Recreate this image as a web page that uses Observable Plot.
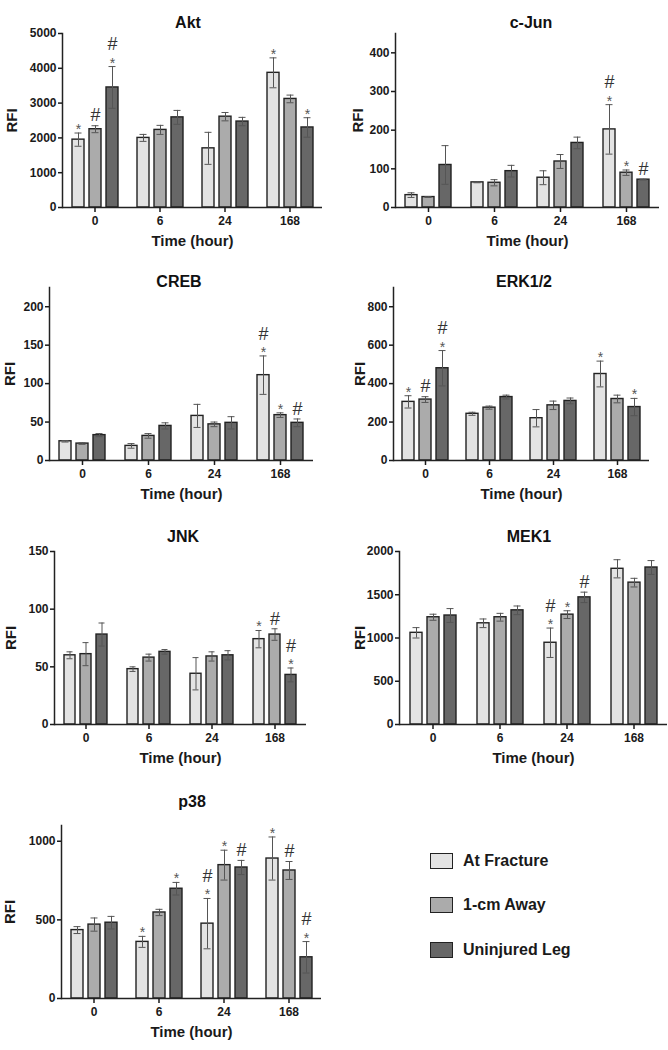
<!DOCTYPE html>
<html><head><meta charset="utf-8">
<script src="https://cdn.jsdelivr.net/npm/d3@7"></script>
<script src="https://cdn.jsdelivr.net/npm/@observablehq/plot@0.6"></script>
<style>
html,body{margin:0;padding:0;background:#fff;}
#page{position:relative;width:668px;height:1050px;overflow:hidden;font-family:"Liberation Sans",Arial,sans-serif;color:#1a1a1a;background:#fff;}
.panel{position:absolute;}
.panel svg{position:absolute;left:0;top:0;}
.ptitle{position:absolute;width:200px;text-align:center;font-weight:bold;font-size:16px;line-height:20px;color:#111;}
g[aria-label="y-axis label"], g[aria-label="fx-axis label"]{font-size:15px;font-weight:bold;}
g[aria-label="y-axis tick label"], g[aria-label="fx-axis tick label"]{font-size:12px;font-weight:bold;}
.lg{position:absolute;display:flex;align-items:center;font-weight:bold;font-size:16px;color:#1a1a1a;}
.sw{width:21px;height:14px;border:1.5px solid #222;margin-right:10px;}
</style>
</head><body><div id="page"></div>
<script>
// ---------- data ----------
const times = ["0", "6", "24", "168"];
const series = ["At Fracture", "1-cm Away", "Uninjured Leg"];

// values per time point: [At Fracture, 1-cm Away, Uninjured Leg]
const aktMean = [[1950, 2250, 3450], [2000, 2230, 2590], [1700, 2610, 2470], [3870, 3120, 2300]];
const aktErr  = [[190, 100, 600], [100, 130, 200], [460, 120, 120], [430, 110, 280]];
const aktSig  = [["*", "#", "*#"], ["", "", ""], ["", "", ""], ["*", "", "*"]];
const aktTicks = [0, 1000, 2000, 3000, 4000, 5000];

const cjunMean = [[32, 27, 110], [65, 64, 94], [77, 119, 167], [202, 90, 72]];
const cjunErr  = [[6, 1, 50], [1, 8, 15], [18, 18, 15], [64, 7, 1]];
const cjunSig  = [["", "", ""], ["", "", ""], ["", "", ""], ["*#", "*", "#"]];
const cjunTicks = [0, 100, 200, 300, 400];

const crebMean = [[25, 22, 33], [19, 32, 45], [58, 47, 49], [111, 59, 49]];
const crebErr  = [[1, 1, 2], [3, 3, 4], [15, 3, 8], [25, 3, 5]];
const crebSig  = [["", "", ""], ["", "", ""], ["", "", ""], ["*#", "*", "#"]];
const crebTicks = [0, 50, 100, 150, 200];

const erkMean = [[305, 317, 480], [243, 275, 330], [220, 287, 310], [450, 320, 278]];
const erkErr  = [[32, 15, 92], [8, 8, 10], [45, 22, 15], [67, 20, 45]];
const erkSig  = [["*", "#", "*#"], ["", "", ""], ["", "", ""], ["*", "", "*"]];
const erkTicks = [0, 200, 400, 600, 800];

const jnkMean = [[60, 61, 78], [48, 58, 63], [44, 59, 60], [74, 78, 43]];
const jnkErr  = [[3, 10, 10], [2, 3, 2], [14, 4, 4], [7.5, 5, 6]];
const jnkSig  = [["", "", ""], ["", "", ""], ["", "", ""], ["*", "#", "*#"]];
const jnkTicks = [0, 50, 100, 150];

const mekMean = [[1060, 1240, 1260], [1170, 1240, 1320], [945, 1270, 1470], [1800, 1640, 1815]];
const mekErr  = [[60, 35, 80], [50, 45, 50], [170, 45, 60], [105, 50, 80]];
const mekSig  = [["", "", ""], ["", "", ""], ["*#", "*", "#"], ["", "", ""]];
const mekTicks = [0, 500, 1000, 1500, 2000];

const p38Mean = [[435, 470, 482], [360, 547, 698], [476, 848, 833], [890, 814, 262]];
const p38Err  = [[22, 42, 40], [35, 20, 40], [160, 95, 45], [137, 57, 100]];
const p38Sig  = [["", "", ""], ["*", "", "*"], ["*#", "*", "#"], ["*", "#", "*#"]];
const p38Ticks = [0, 500, 1000];

const panels = [
  {name: "Akt",    mean: aktMean,  err: aktErr,  sig: aktSig,  ticks: aktTicks,  yMax: 5000},
  {name: "c-Jun",  mean: cjunMean, err: cjunErr, sig: cjunSig, ticks: cjunTicks, yMax: 450},
  {name: "CREB",   mean: crebMean, err: crebErr, sig: crebSig, ticks: crebTicks, yMax: 225},
  {name: "ERK1/2", mean: erkMean,  err: erkErr,  sig: erkSig,  ticks: erkTicks,  yMax: 900},
  {name: "JNK",    mean: jnkMean,  err: jnkErr,  sig: jnkSig,  ticks: jnkTicks,  yMax: 150},
  {name: "MEK1",   mean: mekMean,  err: mekErr,  sig: mekSig,  ticks: mekTicks,  yMax: 2000},
  {name: "p38",    mean: p38Mean,  err: p38Err,  sig: p38Sig,  ticks: p38Ticks,  yMax: 1100}
];

// ---------- styles & layout ----------
const barColors = ["#e3e3e3", "#ababab", "#676767"];
const layout = {
  "Akt":    {col: 0, row: 0, plotL: 61,  plotR: 323, plotT: 33,  plotB: 207, titleX: 188, titleY: 23,  ylabX: 10},
  "c-Jun":  {col: 1, row: 0, plotL: 395, plotR: 659, plotT: 33,  plotB: 207, titleX: 531, titleY: 23,  ylabX: 357},
  "CREB":   {col: 0, row: 1, plotL: 49,  plotR: 313, plotT: 287, plotB: 460, titleX: 179, titleY: 282, ylabX: 9},
  "ERK1/2": {col: 1, row: 1, plotL: 393, plotR: 649, plotT: 287, plotB: 460, titleX: 524, titleY: 282, ylabX: 359},
  "JNK":    {col: 0, row: 2, plotL: 52,  plotR: 307, plotT: 551, plotB: 724, titleX: 183, titleY: 537, ylabX: 8},
  "MEK1":   {col: 1, row: 2, plotL: 399, plotR: 667, plotT: 551, plotB: 724, titleX: 529, titleY: 537, ylabX: 359},
  "p38":    {col: 0, row: 3, plotL: 60,  plotR: 322, plotT: 825, plotB: 998, titleX: 192, titleY: 802, ylabX: 8}
};
const legendPos = {x: 430, y: [861, 905, 950], labelX: 464};

const page = document.getElementById("page");

for (const p of panels) {
  const L = layout[p.name];
  const data = times.flatMap((t, i) => series.map((s, j) => ({
    time: t, series: s, mean: p.mean[i][j], err: p.err[i][j], sig: p.sig[i][j]
  })));
  const left = L.col * 334, top = L.row * 260, W = 334, H = L.row === 3 ? 270 : 260;
  const common = {fx: "time", x: "series"};
  const chart = Plot.plot({
    width: W, height: H,
    marginLeft: L.plotL - left, marginRight: left + W - L.plotR,
    marginTop: L.plotT - top, marginBottom: top + H - L.plotB,
    style: {fontFamily: '"Liberation Sans", Arial, sans-serif', fontSize: "12px", fontWeight: "bold", color: "#1a1a1a", background: "transparent", overflow: "visible"},
    fx: {domain: times, padding: 0},
    x: {domain: series, paddingInner: 0.31, paddingOuter: 0.53, axis: null},
    y: {domain: [0, p.yMax]},
    color: {domain: series, range: barColors},
    marks: [
      Plot.barY(data, {...common, y: "mean", fill: "series", stroke: "#222", strokeWidth: 1.4}),
      Plot.ruleX(data, {...common, y1: d => d.mean - d.err, y2: d => d.mean + d.err, stroke: "#555", strokeWidth: 1}),
      Plot.tickY(data, {...common, y: d => d.mean + d.err, insetLeft: 2.5, insetRight: 2.5, stroke: "#555", strokeWidth: 1}),
      Plot.tickY(data, {...common, y: d => d.mean - d.err, insetLeft: 2.5, insetRight: 2.5, stroke: "#555", strokeWidth: 1}),
      Plot.ruleY([0], {stroke: "#222", strokeWidth: 1.5}),
      Plot.frame({anchor: "left", facetAnchor: "left", stroke: "#222", strokeWidth: 1.5}),
      Plot.axisY({ticks: p.ticks, tickFormat: d => String(d), tickSize: 4, tickPadding: 2, strokeWidth: 1.5,
                  label: "RFI", labelAnchor: "center", labelArrow: "none", labelOffset: L.plotL - L.ylabX + 5.3}),
      Plot.axisFx({anchor: "bottom", tickSize: 5, tickPadding: 4, strokeWidth: 1.5, label: "Time (hour)", labelAnchor: "center", labelArrow: "none", labelOffset: 38}),
      Plot.text(data.filter(d => d.sig.includes("*")), {...common, y: d => d.mean + d.err, text: () => "*", dy: -3.5, fontSize: 14, fontWeight: "normal", fill: "#555"}),
      Plot.text(data.filter(d => d.sig === "#"), {...common, y: d => d.mean + d.err, text: () => "#", dy: -10, fontSize: 18, fontWeight: "normal", fill: "#333"}),
      Plot.text(data.filter(d => d.sig === "*#"), {...common, y: d => d.mean + d.err, text: () => "#", dy: -22, fontSize: 18, fontWeight: "normal", fill: "#333"})
    ]
  });
  const wrap = document.createElement("div");
  wrap.className = "panel";
  wrap.style.left = left + "px"; wrap.style.top = top + "px";
  wrap.style.width = W + "px"; wrap.style.height = H + "px";
  wrap.appendChild(chart);
  const t = document.createElement("div");
  t.className = "ptitle";
  t.textContent = p.name;
  t.style.left = (L.titleX - left - 100) + "px";
  t.style.top = (L.titleY - top - 10) + "px";
  wrap.appendChild(t);
  page.appendChild(wrap);
}

series.forEach((s, i) => {
  const item = document.createElement("div");
  item.className = "lg";
  item.style.left = legendPos.x + "px";
  item.style.top = (legendPos.y[i] - 10) + "px";
  item.style.height = "20px";
  const sw = document.createElement("div");
  sw.className = "sw";
  sw.style.background = barColors[i];
  item.appendChild(sw);
  const lab = document.createElement("span");
  lab.textContent = s;
  item.appendChild(lab);
  page.appendChild(item);
});
</script>
</body></html>
